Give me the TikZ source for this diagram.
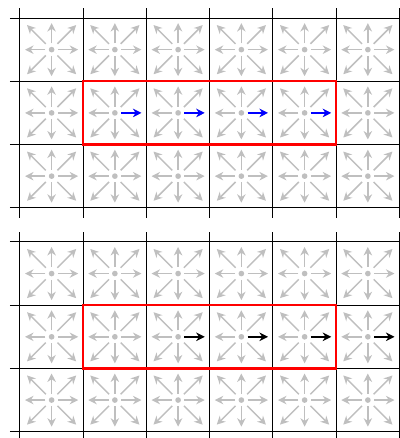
\documentclass[tikz,border=0pt]{standalone}
\usetikzlibrary{arrows.meta}
\definecolor{arrgray}{gray}{0.75}
\begin{document}
\begin{tikzpicture}[x=1cm,y=1cm,
  gridline/.style={black, line width=0.45pt},
  garrow/.style={arrgray, line width=0.65pt, -{Stealth[length=3.8pt,width=3.8pt]}},
  harrow/.style={line width=0.7pt, -{Stealth[length=3.8pt,width=3.8pt]}},
  hlbox/.style={red, line width=1pt}]
\useasboundingbox (-0.316,0.285) rectangle (6.008,-6.640);
\foreach \oy/\first/\last/\col in {0/1/4/blue, -3.54/2/5/black} {
  \foreach \i in {0,...,6} \draw[gridline] (\i,\oy+0.155) -- (\i,\oy-3.155);
  \foreach \j in {0,...,3} \draw[gridline] (-0.158,\oy-\j) -- (6.2,\oy-\j);
  \foreach \i in {0,...,5} \foreach \j in {0,1,2} {
    \begin{scope}[shift={(\i+0.5,\oy-\j-0.5)}]
      \coordinate (c) at (0,0);
      \fill[arrgray] (c) circle (0.045);
      \foreach \a in {0,90,180,270} \draw[garrow] (\a:0.1) -- (\a:0.42);
      \foreach \a in {45,135,225,315} \draw[garrow] (\a:0.13) -- (\a:0.55);
    \end{scope}
  }
  \foreach \i in {\first,...,\last} {
    \coordinate (s) at (\i+0.6,\oy-1.5);
    \coordinate (e) at (\i+0.92,\oy-1.5);
    \draw[harrow,\col] (s) -- (e);
  }
  \draw[hlbox] (1,\oy-1) rectangle (5,\oy-2);
}
\end{tikzpicture}
\end{document}
